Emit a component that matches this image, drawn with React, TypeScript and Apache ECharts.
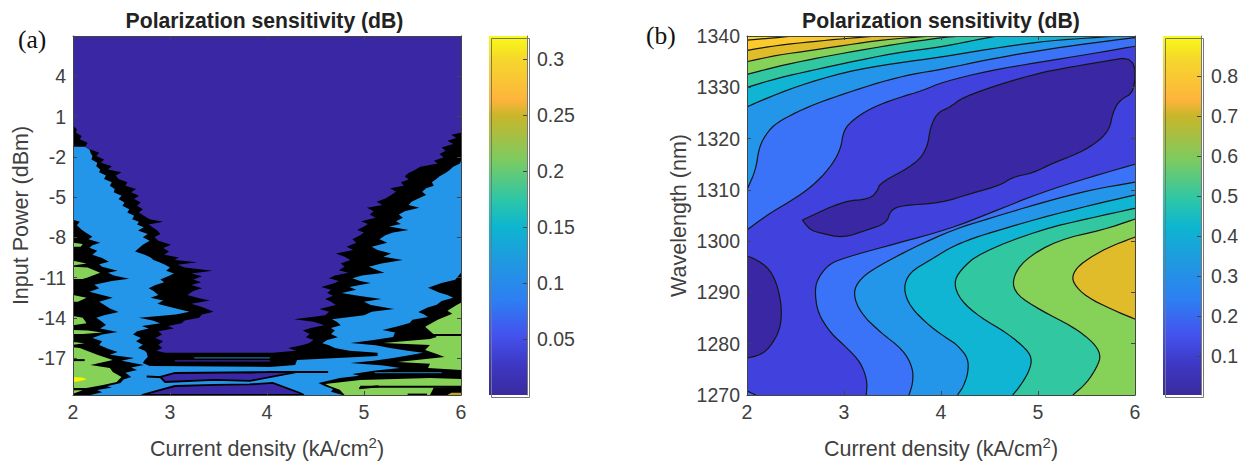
import React, { useEffect, useRef } from "react";
import * as echarts from "echarts";

type P = number[];

const TITLE = "Polarization sensitivity (dB)";
const xTicks = [2, 3, 4, 5, 6];
const powerTicks = [4, 1, -2, -5, -8, -11, -14, -17];
const wavelengthTicks = [1270, 1280, 1290, 1300, 1310, 1320, 1330, 1340];
const barATicks = [0.05, 0.1, 0.15, 0.2, 0.25, 0.3];
const barBTicks = [0.1, 0.2, 0.3, 0.4, 0.5, 0.6, 0.7, 0.8];
const POWER_RANGE = [-19.75, 7];
const WL_RANGE = [1270, 1340];
const BAR_A_RANGE = [0, 0.3205];
const BAR_B_RANGE = [0.0025, 0.9];

const barStops: [number, string][] = [
  [0, "#3a2a9e"], [0.084, "#3d38c4"], [0.167, "#4452ee"], [0.265, "#2d7ff2"],
  [0.376, "#1f9ae0"], [0.468, "#0db5d0"], [0.543, "#2cc6a8"], [0.655, "#7ccb60"],
  [0.777, "#c8b62a"], [0.822, "#feb43c"], [0.936, "#f5d82c"], [1, "#f9fb15"],
];

const DARK = "#3a27a3";
const INDIGO = "#4141de";
const BLUE = "#3a72f8";
const SKY = "#2496ea";
const CYAN = "#0fb5d3";
const TEAL = "#31c7a0";
const GREEN = "#86d157";
const GOLD = "#e0bc2a";
const AMBER = "#fbcb2e";
const LEMON = "#f8dc2c";
const OLIVE = "#b8a828";
const YELLOW = "#fdf000";
const STREAK = "#1a6e9a";

// ---- Panel (a): rows of [dBm, purple-side edge, blue-side edge] ----
const leftBand = [
  [0.32, 2.0, 2.0], [0.05, 2.04, 2.0], [-0.2, 2.03, 2.0], [-0.45, 2.09, 2.0], [-0.7, 2.07, 2.0],
  [-0.95, 2.15, 2.0], [-1.2, 2.13, 2.0], [-1.25, 2.12, 2.12], [-1.45, 2.18, 2.17], [-1.7, 2.27, 2.18],
  [-1.95, 2.24, 2.2], [-2.2, 2.32, 2.19], [-2.45, 2.29, 2.25], [-2.7, 2.4, 2.24], [-2.95, 2.36, 2.28],
  [-3.15, 2.5, 2.27], [-3.4, 2.44, 2.34], [-3.65, 2.47, 2.32], [-3.9, 2.56, 2.4], [-4.15, 2.54, 2.38],
  [-4.4, 2.65, 2.43], [-4.65, 2.6, 2.42], [-4.9, 2.68, 2.5], [-5.15, 2.63, 2.47], [-5.4, 2.7, 2.53],
  [-5.65, 2.66, 2.51], [-5.9, 2.72, 2.58], [-6.15, 2.68, 2.56], [-6.4, 2.73, 2.63], [-6.65, 2.79, 2.61],
  [-6.85, 2.93, 2.68], [-7.05, 2.78, 2.66], [-7.25, 2.82, 2.73], [-7.5, 2.87, 2.67], [-7.75, 2.9, 2.77],
  [-8.0, 2.84, 2.72], [-8.25, 2.88, 2.79], [-8.55, 3.01, 2.72], [-8.8, 2.93, 2.68], [-9.05, 2.99, 2.64],
  [-9.3, 2.94, 2.74], [-9.5, 3.09, 2.8], [-9.7, 3.05, 2.83], [-9.85, 3.28, 2.89], [-10.05, 3.08, 2.95],
  [-10.25, 3.15, 3.0], [-10.5, 3.44, 2.96], [-10.7, 3.22, 3.04], [-10.9, 3.33, 2.98], [-11.15, 3.24, 2.9],
  [-11.35, 3.32, 2.94], [-11.55, 3.22, 2.85], [-11.8, 3.33, 2.78], [-12.0, 3.24, 2.83], [-12.3, 3.18, 2.88],
  [-12.5, 3.28, 2.8], [-12.7, 3.41, 2.93], [-12.95, 3.22, 2.87], [-13.2, 3.33, 3.0], [-13.55, 3.45, 3.2],
  [-13.75, 3.33, 3.06], [-14.0, 3.3, 2.68], [-14.2, 3.15, 2.82], [-14.4, 3.12, 2.9], [-14.6, 2.98, 2.71],
  [-14.8, 3.04, 2.78], [-15.0, 2.88, 2.66], [-15.25, 2.92, 2.62], [-15.5, 2.85, 2.7], [-15.75, 2.93, 2.65],
  [-16.0, 2.88, 2.72], [-16.25, 2.92, 2.67], [-16.45, 2.86, 2.74], [-16.61, 2.95, 2.76],
];
const rightBand = [
  [-0.35, 5.9, 6], [-0.6, 5.95, 6], [-0.8, 5.86, 6], [-1.05, 5.92, 6], [-1.3, 5.8, 6], [-1.55, 5.84, 6],
  [-1.8, 5.78, 6], [-2.05, 5.82, 6], [-2.3, 5.72, 6], [-2.5, 5.76, 5.99], [-2.75, 5.58, 5.92], [-3.0, 5.52, 5.88],
  [-3.2, 5.46, 5.84], [-3.45, 5.42, 5.78], [-3.7, 5.46, 5.74], [-3.9, 5.38, 5.7], [-4.15, 5.41, 5.72],
  [-4.35, 5.27, 5.64], [-4.6, 5.33, 5.6], [-4.85, 5.28, 5.64], [-5.1, 5.22, 5.56], [-5.35, 5.13, 5.49],
  [-5.6, 5.19, 5.46], [-5.8, 5.03, 5.57], [-6.05, 5.1, 5.42], [-6.3, 5.06, 5.36], [-6.55, 5.12, 5.4],
  [-6.8, 4.97, 5.33], [-7.0, 5.04, 5.38], [-7.2, 5.0, 5.26], [-7.45, 4.93, 5.46], [-7.65, 5.0, 5.3],
  [-7.85, 4.96, 5.22], [-8.15, 4.88, 5.16], [-8.4, 4.92, 5.24], [-8.7, 4.82, 5.08], [-8.95, 4.89, 5.14],
  [-9.2, 4.71, 5.28], [-9.45, 4.8, 5.2], [-9.7, 4.86, 5.4], [-9.95, 4.76, 5.18], [-10.2, 4.8, 5.05],
  [-10.45, 4.74, 5.14], [-10.65, 4.84, 5.21], [-10.85, 4.7, 4.98], [-11.05, 4.64, 4.88], [-11.25, 4.74, 4.96],
  [-11.4, 4.7, 5.07], [-11.7, 4.56, 4.85], [-11.9, 4.66, 4.92], [-12.15, 4.62, 4.77], [-12.35, 4.68, 4.94],
  [-12.6, 4.6, 5.18], [-12.8, 4.66, 5.0], [-13.05, 4.71, 5.07], [-13.35, 4.54, 5.31], [-13.55, 4.64, 5.08],
  [-13.8, 4.6, 5.0], [-14.1, 4.28, 4.67], [-14.3, 4.48, 4.72], [-14.55, 4.59, 4.76], [-14.75, 4.45, 4.66],
  [-14.95, 4.37, 4.7], [-15.2, 4.44, 4.66], [-15.45, 4.4, 4.73], [-15.65, 4.48, 4.62], [-15.9, 4.43, 4.57],
  [-16.05, 4.36, 4.64], [-16.25, 4.22, 4.7], [-16.45, 4.3, 4.85], [-16.61, 4.06, 5.14],
];
const blueFloorEdge = [
  [2.77, -16.91], [2.74, -17.14], [2.72, -17.36], [2.79, -17.58], [4.03, -17.66],
  [4.29, -17.51], [4.31, -17.14], [5.14, -16.84],
];
const upperLens = [
  [2.9, -18.4], [3.05, -18.11], [4.24, -18.03], [4.29, -18.07], [3.82, -18.7], [3.46, -18.63], [2.95, -18.78],
];
const lowerLens = [
  [2.71, -19.75], [2.79, -19.6], [3.05, -19.08], [3.46, -19.0], [3.82, -18.96], [4.06, -18.85], [4.34, -19.6], [4.38, -19.75],
];
const leftGreenEdge = [
  [2, -6.69], [2.07, -6.84], [2.04, -7.1], [2.09, -7.44], [2.13, -7.65], [2.2, -7.96], [2.16, -8.15], [2.28, -8.41],
  [2.2, -8.6], [2.17, -8.78], [2.25, -9.0], [2.2, -9.3], [2.3, -9.55], [2.37, -9.83], [2.27, -10.0], [2.3, -10.2],
  [2.46, -10.5], [2.36, -10.65], [2.42, -10.85], [2.58, -11.09], [2.4, -11.25], [2.22, -11.54], [2.27, -11.8],
  [2.17, -12.06], [2.3, -12.3], [2.41, -12.51], [2.27, -12.8], [2.32, -13.03], [2.38, -13.3], [2.47, -13.56],
  [2.32, -13.8], [2.24, -14.0], [2.3, -14.3], [2.34, -14.53], [2.28, -14.8], [2.46, -15.05], [2.3, -15.25],
  [2.2, -15.5], [2.3, -15.75], [2.27, -16.02], [2.36, -16.3], [2.46, -16.54], [2.38, -16.75], [2.63, -16.99],
  [2.5, -17.2], [2.73, -17.51], [2.6, -17.7], [2.66, -17.88], [2.54, -18.1], [2.6, -18.4], [2.52, -18.6],
  [2.49, -18.85], [2.35, -19.1], [2.4, -19.2], [2.25, -19.37], [2.3, -19.55], [2.18, -19.75], [2, -19.75],
];
const leftGreenPatches = [
  [[2, -8.41], [2.1, -8.5], [2.08, -8.7], [2, -8.7]],
  [[2, -9.75], [2.14, -9.95], [2, -10.1]],
  [[2, -10.2], [2.15, -10.25], [2.28, -10.65], [2.15, -11.0], [2.1, -11.1], [2, -11.1]],
  [[2, -12.29], [2.14, -12.5], [2.05, -12.8], [2, -12.8]],
  [[2, -13.86], [2.1, -14], [2.14, -14.4], [2, -14.55]],
  [[2, -14.9], [2.15, -14.95], [2.3, -15.1], [2.1, -15.2], [2, -15.2]],
  [[2, -15.8], [2.12, -15.9], [2, -16.0]],
  [[2, -16.2], [2.07, -16.24], [2.25, -16.76], [2.41, -17.14], [2.18, -17.51], [2.38, -17.73], [2.41, -18.03],
   [2.5, -18.4], [2.45, -18.78], [2.31, -19.0], [2.14, -19.22], [2, -19.22]],
  [[2, -19.4], [2.1, -19.4], [2, -19.65]],
];
const yellowPatch = [[2, -18.4], [2.1, -18.45], [2.14, -18.6], [2.05, -18.75], [2, -18.78]];
const rightGreenEdge = [
  [6, -10.65], [5.94, -11.17], [5.8, -11.4], [5.66, -11.76], [5.72, -11.95], [5.78, -12.14], [5.86, -12.3], [5.92, -12.51],
  [5.8, -12.75], [5.75, -13.03], [5.65, -13.25], [5.56, -13.56], [5.62, -13.75], [5.66, -13.93], [5.5, -14.15],
  [5.47, -14.38], [5.34, -14.65], [5.19, -14.9], [5.32, -15.1], [5.3, -15.42], [5.1, -15.65], [4.86, -15.87],
  [5.12, -16.05], [5.27, -16.24], [5.45, -16.45], [5.61, -16.61], [5.45, -16.8], [5.3, -16.99], [5.1, -17.2],
  [4.86, -17.36], [5.2, -17.55], [5.37, -17.73], [5.1, -17.95], [4.88, -18.18], [4.95, -18.32], [4.75, -18.48],
  [4.62, -18.7], [4.53, -18.85], [4.6, -19.1], [4.68, -19.3], [4.66, -19.5], [4.78, -19.75], [6, -19.75],
];
const rightGreenUpper = [
  [6, -12.88], [5.96, -13.03], [5.86, -13.48], [5.91, -13.7], [5.76, -14.15], [5.63, -14.67], [5.75, -15.42],
  [5.68, -15.57], [5.2, -15.87], [5.68, -16.02], [5.63, -16.39], [5.75, -16.69], [5.83, -16.91], [5.35, -17.29],
  [5.68, -17.43], [5.66, -17.73], [6, -17.88],
];
const rightGreenLower = [
  [4.6, -18.93], [4.96, -18.63], [5.68, -18.48], [6, -18.55], [6, -19.15], [5.72, -19.2], [5.68, -19.75],
  [4.8, -19.75], [4.75, -19.35], [4.65, -19.1],
];
const olivePatch = [[5.86, -19.75], [5.9, -19.58], [6, -19.58], [6, -19.75]];
const blackStreaks = [
  [[5.42, -15.27], [6, -15.27]],
  [[4.96, -19.13], [6, -19.13]],
  [[5.45, -19.72], [5.65, -19.72]],
  [[4.95, -19.25], [5.15, -19.1]],
  [[4.0, -18.03], [4.63, -18.03]],
  [[2.76, -18.38], [2.92, -18.42]],
  [[2.0, -17.15], [2.12, -17.15]],
];
const tealStreaks = [
  [[3.25, -16.99], [4.03, -16.99]],
  [[5.11, -18.08], [5.8, -18.08]],
];
const purpleStreak = [[3.05, -17.21], [4.03, -17.21]];

// ---- Panel (b): contour lines as [current density, wavelength] ----
const line0 = [[2, 1339.2], [2.5, 1340]];
const line1 = [[2, 1337.2], [2.32, 1338.2], [2.67, 1338.9], [3.01, 1339.5], [3.35, 1340]];
const line2 = [[2, 1335.0], [2.32, 1336.3], [2.67, 1337.2], [3.01, 1338.2], [3.42, 1339.3], [3.91, 1340]];
const line3 = [[2, 1332.5], [2.32, 1334.1], [2.67, 1335.5], [3.01, 1336.7], [3.53, 1338.4], [4.01, 1339.7], [4.2, 1340]];
const line4 = [[2, 1330.0], [2.32, 1331.8], [2.67, 1333.3], [3.01, 1334.7], [3.53, 1336.7], [4.01, 1337.9], [4.3, 1339], [4.58, 1340]];
const line5 = [[2, 1326.2], [2.17, 1327.6], [2.5, 1330.1], [3.01, 1333], [3.53, 1334.7], [4.01, 1335.9], [4.51, 1337.5], [5.02, 1338.9], [5.43, 1339.5], [5.84, 1340]];
const line6 = [[2, 1310], [2.09, 1313.9], [2.12, 1317.8], [2.17, 1320.1], [2.27, 1322.6], [2.45, 1324.6], [2.72, 1326.9], [3.03, 1328.9], [3.37, 1331], [3.71, 1332.6], [4.01, 1333.5], [4.51, 1335.5], [5.02, 1337.2], [5.54, 1338.6], [6, 1339.7]];
const line7 = [[2, 1302.2], [2.24, 1305.5], [2.52, 1308.6], [2.72, 1311.5], [2.89, 1315.2], [2.97, 1318.3], [2.99, 1321.1], [3.06, 1323.2], [3.27, 1325.9], [3.55, 1327.9], [3.82, 1329.4], [4.01, 1331], [4.51, 1333.3], [5.02, 1334.9], [5.54, 1336.5], [6, 1338]];
const centreIsland = [
  [2.57, 1304.1], [2.99, 1307.8], [3.27, 1308.2], [3.35, 1310], [3.37, 1311.3], [3.75, 1315.2], [3.86, 1318.3],
  [3.89, 1322.2], [3.96, 1325], [4.09, 1326.1], [4.23, 1328.1], [4.64, 1330.8], [5.02, 1332.8], [5.26, 1333.7],
  [5.64, 1334.9], [6, 1336.1], [6, 1329.1], [5.84, 1327.5], [5.77, 1325], [5.74, 1322], [5.64, 1319.7], [5.43, 1317.2],
  [5.15, 1315.2], [4.95, 1313.3], [4.74, 1312.5], [4.61, 1310.9], [4.33, 1309.4], [3.99, 1307.4], [3.61, 1307],
  [3.48, 1306.1], [3.44, 1303.5], [3.24, 1302.2], [2.99, 1300.6], [2.75, 1301.6], [2.65, 1302.2], [2.57, 1304.1],
];
const leftIsland = [[2, 1297.1], [2.11, 1296.3], [2.24, 1294.4], [2.32, 1291], [2.36, 1286.6], [2.34, 1282.7], [2.24, 1279.4], [2.14, 1277.8], [2, 1277.2]];
const cornerLine = [[2, 1270.8], [2.09, 1270]];
const line9 = [[6, 1315], [5.54, 1312.5], [5.02, 1309.4], [4.51, 1305.5], [4.09, 1302.4], [3.55, 1299.6], [2.99, 1296.7], [2.83, 1295.3], [2.72, 1292.4], [2.7, 1289.9], [2.73, 1286], [2.86, 1282.1], [3.03, 1279.2], [3.17, 1276.4], [3.24, 1272.9], [3.23, 1270]];
const line10 = [[6, 1311.5], [5.54, 1310], [5.02, 1307.4], [4.51, 1304.5], [4.12, 1302.2], [3.71, 1298.7], [3.37, 1295.3], [3.17, 1292.8], [3.09, 1289.9], [3.17, 1286], [3.37, 1282.3], [3.61, 1278.8], [3.71, 1275.3], [3.71, 1272.3], [3.67, 1270]];
const line11 = [[6, 1309], [5.54, 1307], [5.02, 1304.5], [4.61, 1302.2], [4.33, 1300.6], [4.09, 1298.7], [3.89, 1296.3], [3.68, 1294], [3.61, 1290.9], [3.68, 1287.2], [3.89, 1283.3], [4.09, 1280.7], [4.17, 1279.7], [4.28, 1277.2], [4.28, 1274.3], [4.23, 1271.6], [4.17, 1270]];
const line12 = [[6, 1306.4], [5.54, 1304.5], [5.02, 1302.2], [4.4, 1297.7], [4.2, 1294.4], [4.13, 1291.8], [4.2, 1288.5], [4.4, 1285.2], [4.68, 1282.1], [4.89, 1278.8], [4.94, 1276.8], [4.9, 1274.3], [4.81, 1271.6], [4.74, 1270]];
const line13 = [[6, 1304.3], [5.67, 1302.2], [5.2, 1300.2], [4.85, 1296.3], [4.73, 1292.4], [4.78, 1289.5], [5.02, 1286.6], [5.36, 1283.3], [5.57, 1280.3], [5.65, 1277.8], [5.61, 1275.5], [5.5, 1272.3], [5.36, 1270]];
const line14 = [[6, 1300.8], [5.71, 1298.7], [5.46, 1295.9], [5.36, 1293.8], [5.36, 1291.8], [5.5, 1289.1], [5.77, 1286.6], [6, 1284.8]];

function chaikin(line: P[], rounds = 2): P[] {
  let out = line;
  for (let r = 0; r < rounds; r++) {
    const next: P[] = [out[0]];
    for (let i = 0; i < out.length - 1; i++) {
      const a = out[i];
      const b = out[i + 1];
      next.push([a[0] * 0.75 + b[0] * 0.25, a[1] * 0.75 + b[1] * 0.25]);
      next.push([a[0] * 0.25 + b[0] * 0.75, a[1] * 0.25 + b[1] * 0.75]);
    }
    next.push(out[out.length - 1]);
    out = next;
  }
  return out;
}

function polygon(ax: number, pts: P[], fill: string, stroke?: string, lineWidth = 0) {
  return {
    type: "custom", xAxisIndex: ax, yAxisIndex: ax, clip: true, silent: true, data: pts,
    encode: { x: 0, y: 1 },
    renderItem: (p: any, api: any) =>
      p.dataIndex !== 0 ? null : {
        type: "polygon",
        shape: { points: pts.map((q) => api.coord(q)) },
        style: { fill, stroke: stroke || "none", lineWidth },
      },
  };
}

function streak(ax: number, pts: P[], stroke: string, lineWidth: number) {
  return {
    type: "custom", xAxisIndex: ax, yAxisIndex: ax, clip: true, silent: true, data: pts,
    encode: { x: 0, y: 1 },
    renderItem: (p: any, api: any) =>
      p.dataIndex !== 0 ? null : {
        type: "polyline",
        shape: { points: pts.map((q) => api.coord(q)) },
        style: { fill: "none", stroke, lineWidth },
      },
  };
}

// a filled contour: a smoothed contour line plus the frame corners that close it
function contour(line: P[], closure: P[], fill: string) {
  const smooth = chaikin(line);
  return {
    type: "custom", xAxisIndex: 1, yAxisIndex: 1, clip: true, silent: true, data: line,
    encode: { x: 0, y: 1 },
    renderItem: (p: any, api: any) =>
      p.dataIndex !== 0 ? null : {
        type: "group",
        children: [
          { type: "polygon", shape: { points: smooth.concat(closure).map((q) => api.coord(q)) }, style: { fill, stroke: "none" } },
          { type: "polyline", shape: { points: smooth.map((q) => api.coord(q)) }, style: { fill: "none", stroke: "#161616", lineWidth: 1.2 } },
        ],
      },
  };
}

function colorbar(ax: number, range: number[]) {
  const d = [[0, range[0]], [1, range[1]]];
  return {
    type: "custom", xAxisIndex: ax, yAxisIndex: ax, silent: true, data: d,
    encode: { x: 0, y: 1 },
    renderItem: (p: any, api: any) => {
      if (p.dataIndex !== 0) return null;
      const a = api.coord(d[0]);
      const b = api.coord(d[1]);
      return {
        type: "rect",
        shape: { x: a[0], y: b[1], width: b[0] - a[0], height: a[1] - b[1] },
        style: {
          fill: {
            type: "linear", x: 0, y: 1, x2: 0, y2: 0,
            colorStops: barStops.map(([offset, color]) => ({ offset, color })),
          },
        },
      };
    },
  };
}

function panelASeries() {
  const [y0, y1] = POWER_RANGE;
  const black = [
    ...leftBand.map((r) => [r[1], r[0]]),
    ...rightBand.slice().reverse().map((r) => [r[1], r[0]]),
    [6, -0.2], [6, y0], [2, y0],
  ];
  const blue = [
    [2, -1.25],
    ...leftBand.filter((r) => r[0] <= -1.25).map((r) => [r[2], r[0]]),
    ...blueFloorEdge,
    ...rightBand.slice().reverse().map((r) => [r[2], r[0]]),
    [6, y0], [2, y0],
  ];
  const out: any[] = [
    polygon(0, [[2, y0], [6, y0], [6, y1], [2, y1]], DARK),
    polygon(0, black, "#000000"),
    polygon(0, blue, SKY),
    streak(0, purpleStreak, DARK, 1.2),
    polygon(0, upperLens, DARK, "#000000", 1.8),
    polygon(0, lowerLens, DARK, "#000000", 1.8),
    polygon(0, leftGreenEdge, "#000000"),
    polygon(0, rightGreenEdge, "#000000"),
  ];
  leftGreenPatches.forEach((g) => out.push(polygon(0, g, GREEN)));
  out.push(polygon(0, yellowPatch, YELLOW));
  out.push(polygon(0, rightGreenUpper, GREEN));
  out.push(polygon(0, rightGreenLower, GREEN));
  out.push(polygon(0, olivePatch, OLIVE));
  blackStreaks.forEach((s) => out.push(streak(0, s, "#000000", 2)));
  tealStreaks.forEach((s) => out.push(streak(0, s, STREAK, 1.2)));
  return out;
}

function panelBSeries() {
  const [b, t] = WL_RANGE;
  const TL = [2, t], TR = [6, t], BR = [6, b];
  return [
    polygon(1, [[2, b], BR, TR, TL], INDIGO),
    contour(leftIsland, [], DARK),
    contour(centreIsland, [], DARK),
    contour(line7, [TR, TL], BLUE),
    contour(line6, [TR, TL], SKY),
    contour(line5, [TL], CYAN),
    contour(line4, [TL], TEAL),
    contour(line3, [TL], GREEN),
    contour(line2, [TL], GOLD),
    contour(line1, [TL], AMBER),
    contour(line0, [TL], LEMON),
    contour(cornerLine, [[2, b]], BLUE),
    contour(line9, [BR], BLUE),
    contour(line10, [BR], SKY),
    contour(line11, [BR], CYAN),
    contour(line12, [BR], TEAL),
    contour(line13, [BR], GREEN),
    contour(line14, [], GOLD),
  ];
}

const INK = "#404040";
const FRAME = "#444444";
const sideAxis = (pos: string, grid: number, min: number, max: number, ticks: number[], extra: any = {}, labelExtra: any = {}) => ({
  type: "value", gridIndex: grid, position: pos, min, max, z: 6, splitLine: { show: false },
  axisLine: { show: true, onZero: false, lineStyle: { color: FRAME, width: 1 } },
  axisTick: { show: true, inside: true, length: 4, customValues: ticks, lineStyle: { color: FRAME } },
  axisLabel: {
    show: true, customValues: ticks, color: INK, fontFamily: "Liberation Sans", fontSize: 19.5, margin: 7,
    formatter: (v: number) => String(v), ...labelExtra,
  },
  ...extra,
});
const mirror = (pos: string, grid: number, min: number, max: number, ticks: number[]) =>
  sideAxis(pos, grid, min, max, ticks, { axisLabel: { show: false } });
const hiddenAxis = (grid: number) => ({
  type: "value", gridIndex: grid, min: 0, max: 1, show: false,
});
const nameStyle = {
  color: INK, fontFamily: "Liberation Sans", fontSize: 21.5,
  rich: { sup: { fontSize: 15, color: INK, fontFamily: "Liberation Sans", padding: [0, 0, 12, 0] } },
};
const XNAME = "Current density (kA/cm{sup|2})";
const barFrame = { lineStyle: { color: "#777777", width: 1 } };
const lowered = { padding: [4, 0, 0, 0] };
const gridBox = { top: 36, height: 359, containLabel: false, outerBoundsMode: "none" };

export default function App() {
  const ref = useRef<HTMLDivElement>(null);
  useEffect(() => {
    document.body.style.margin = "0";
    const chart = echarts.init(ref.current!, undefined, { renderer: "svg" });
    const xNamed = { name: XNAME, nameLocation: "middle", nameGap: 40, nameTextStyle: nameStyle };
    const titleStyle = { fontFamily: "Liberation Sans", fontWeight: "bold", fontSize: 21.2, color: "#222222" };
    chart.setOption({
      animation: false,
      backgroundColor: "#ffffff",
      title: [
        { text: TITLE, left: 259.5, top: 5, textAlign: "center", textStyle: titleStyle },
        { text: TITLE, left: 936, top: 5, textAlign: "center", textStyle: titleStyle },
      ],
      grid: [
        { ...gridBox, left: 73, width: 388 },
        { ...gridBox, left: 747, width: 388 },
        { ...gridBox, left: 489, width: 38 },
        { ...gridBox, left: 1163, width: 38 },
      ],
      xAxis: [
        sideAxis("bottom", 0, 2, 6, xTicks, xNamed),
        sideAxis("bottom", 1, 2, 6, xTicks, xNamed),
        { ...hiddenAxis(2) },
        { ...hiddenAxis(3) },
        mirror("top", 0, 2, 6, xTicks),
        mirror("top", 1, 2, 6, xTicks),
      ],
      yAxis: [
        sideAxis("left", 0, POWER_RANGE[0], POWER_RANGE[1], powerTicks, { name: "Input Power (dBm)", nameLocation: "middle", nameGap: 41, nameRotate: 90, nameTextStyle: nameStyle }, lowered),
        sideAxis("left", 1, WL_RANGE[0], WL_RANGE[1], wavelengthTicks, { name: "Wavelength (nm)", nameLocation: "middle", nameGap: 57, nameRotate: 90, nameTextStyle: nameStyle }, lowered),
        sideAxis("right", 2, BAR_A_RANGE[0], BAR_A_RANGE[1], barATicks, { axisLine: { show: true, onZero: false, ...barFrame } }, { margin: 10 }),
        sideAxis("right", 3, BAR_B_RANGE[0], BAR_B_RANGE[1], barBTicks, { axisLine: { show: true, onZero: false, ...barFrame } }, { margin: 10 }),
        mirror("right", 0, POWER_RANGE[0], POWER_RANGE[1], powerTicks),
        mirror("right", 1, WL_RANGE[0], WL_RANGE[1], wavelengthTicks),
      ],
      graphic: [
        { type: "text", left: 18, top: 26, style: { text: "(a)", fontFamily: "Liberation Serif", fontSize: 25.5, fill: "#111111" } },
        { type: "text", left: 646, top: 22, style: { text: "(b)", fontFamily: "Liberation Serif", fontSize: 25.5, fill: "#111111" } },
        { type: "rect", z: 10, silent: true, left: 489, top: 36, shape: { width: 38, height: 359 }, style: { fill: "none", stroke: "#777777", lineWidth: 1 } },
        { type: "rect", z: 10, silent: true, left: 1163, top: 36, shape: { width: 38, height: 359 }, style: { fill: "none", stroke: "#777777", lineWidth: 1 } },
      ],
      series: [...panelASeries(), ...panelBSeries(), colorbar(2, BAR_A_RANGE), colorbar(3, BAR_B_RANGE)],
    });
    return () => chart.dispose();
  }, []);
  return <div ref={ref} style={{ width: 1247, height: 461, position: "fixed", left: 0, top: 0 }} />;
}
